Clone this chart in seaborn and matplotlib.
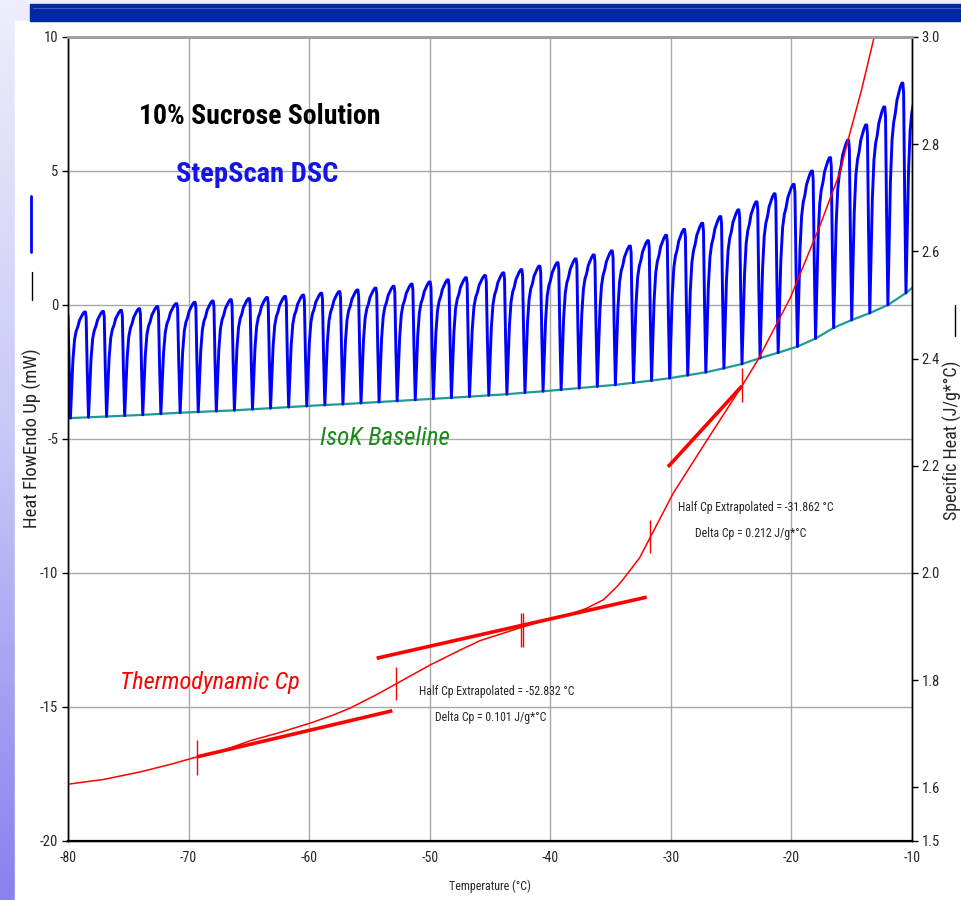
import numpy as np
import pandas as pd
import matplotlib
matplotlib.use("Agg")
import matplotlib.pyplot as plt
from matplotlib import font_manager
from matplotlib.patches import Rectangle
import seaborn as sns

# --- data ---
# StepScan: temperature (°C) where each heat-flow step drops back to the baseline
step_temps = [-79.8, -78.3, -76.8, -75.3, -73.8, -72.3, -70.7, -69.2, -67.7, -66.2,
              -64.7, -63.2, -61.7, -60.2, -58.7, -57.2, -55.7, -54.2, -52.7, -51.2,
              -49.7, -48.2, -46.7, -45.1, -43.6, -42.1, -40.6, -39.1, -37.6, -36.1,
              -34.6, -33.1, -31.6, -30.1, -28.6, -27.1, -25.6, -24.1, -22.6, -21.1,
              -19.5, -18.0, -16.5, -15.0, -13.5, -12.0, -10.5, -9.0]
# peak heat flow (mW) just before each drop
peak_vals = [-0.40, -0.26, -0.24, -0.20, -0.14, -0.06, 0.05, 0.10, 0.15, 0.20,
             0.24, 0.28, 0.32, 0.37, 0.44, 0.50, 0.56, 0.63, 0.70, 0.78,
             0.86, 0.94, 1.02, 1.10, 1.20, 1.32, 1.45, 1.58, 1.72, 1.87,
             2.02, 2.20, 2.40, 2.60, 2.82, 3.05, 3.30, 3.55, 3.85, 4.15,
             4.50, 5.00, 5.50, 6.15, 6.72, 7.39, 8.28, 8.60]
# IsoK baseline (mW) at each drop
base_vals = [-4.22, -4.19, -4.16, -4.13, -4.10, -4.06, -4.02, -3.99, -3.96, -3.93,
             -3.89, -3.85, -3.81, -3.77, -3.73, -3.70, -3.66, -3.62, -3.58, -3.54,
             -3.50, -3.46, -3.42, -3.37, -3.33, -3.27, -3.22, -3.16, -3.10, -3.04,
             -2.98, -2.90, -2.82, -2.73, -2.62, -2.51, -2.36, -2.20, -1.98, -1.78,
             -1.55, -1.25, -0.85, -0.56, -0.30, 0.00, 0.45, 1.00]
# shape of one step: fraction of the cycle and fraction of the peak height
step_phase = [0.0, 0.05, 0.14, 0.23, 0.32, 0.41, 0.50, 0.59, 0.68, 0.77, 0.83, 0.87, 0.93, 1.0]
step_frac = [0.0, 0.20, 0.55, 0.74, 0.82, 0.86, 0.92, 0.95, 0.98, 1.0, 1.0, 0.95, 0.45, 0.0]

# thermodynamic Cp (J/g*°C)
cp_temp = [-80.0, -77.0, -74.0, -71.5, -69.3, -67.0, -64.9, -62.5, -59.9, -58.0,
           -56.6, -54.5, -52.8, -50.0, -47.5, -45.8, -44.0, -42.35, -40.5, -38.4,
           -37.0, -35.6, -34.5, -34.0, -32.6, -31.7, -29.8, -27.0, -24.1, -22.8,
           -20.1, -17.6, -16.0, -15.3, -14.2, -13.2, -12.9]
cp_vals = [1.606, 1.615, 1.629, 1.643, 1.657, 1.670, 1.687, 1.702, 1.720, 1.735,
           1.748, 1.772, 1.793, 1.828, 1.856, 1.874, 1.887, 1.899, 1.911, 1.923,
           1.934, 1.950, 1.974, 1.987, 2.028, 2.067, 2.149, 2.248, 2.349, 2.397,
           2.513, 2.650, 2.746, 2.808, 2.900, 2.994, 3.030]

# tangent lines and marker ticks on the Cp curve
tangent_T = [(-69.3, -53.1), (-54.4, -32.0), (-30.24, -24.1)]
tangent_cp = [(1.657, 1.743), (1.841, 1.955), (2.198, 2.349)]
mark_T = [-69.3, -52.8, -42.45, -42.25, -31.75, -24.1]
mark_lo = [1.623, 1.763, 1.862, 1.862, 2.037, 2.319]
mark_hi = [1.688, 1.825, 1.925, 1.925, 2.099, 2.382]

x_ticks = [-80, -70, -60, -50, -40, -30, -20, -10]
hf_ticks = [10, 5, 0, -5, -10, -15, -20]
cp_ticks = [3.0, 2.8, 2.6, 2.4, 2.2, 2.0, 1.8, 1.6, 1.5]

# --- build the step-scan trace from the per-step values ---
hf_T, hf_v = [cp_temp[0]], [peak_vals[0]]
for k in range(1, len(step_temps)):
    t0, t1 = step_temps[k - 1], step_temps[k]
    b0, b1 = base_vals[k - 1], base_vals[k]
    for ph, fr in zip(step_phase, step_frac):
        b = b0 + (b1 - b0) * ph
        hf_T.append(t0 + (t1 - t0) * ph)
        hf_v.append(b + fr * (peak_vals[k] - b))
hf = pd.DataFrame({"T": hf_T, "hf": hf_v})
base = pd.DataFrame({"T": [-80.0] + step_temps, "hf": [base_vals[0]] + base_vals})
cp = pd.DataFrame({"T": cp_temp, "cp": cp_vals})

sns.set_style("white")
names = {f.name for f in font_manager.fontManager.ttflist}
narrow = next((n for n in ["Liberation Sans Narrow", "Arial Narrow", "Roboto Condensed",
                           "DejaVu Sans Condensed", "Liberation Sans"] if n in names), "DejaVu Sans")
plt.rcParams["font.family"] = ["Liberation Sans", "DejaVu Sans"]

W, H = 961, 900
fig = plt.figure(figsize=(W / 100, H / 100), dpi=100)
fig.patch.set_facecolor("white")

# slide background: lavender gradient, blue header band, white panel
bg = fig.add_axes([0, 0, 1, 1], zorder=-10)
grad = np.linspace(0, 1, 256).reshape(-1, 1)
cmap = matplotlib.colors.LinearSegmentedColormap.from_list("bg", ["#eeeefc", "#c8c6f6", "#8a80ee"])
bg.imshow(grad, aspect="auto", cmap=cmap, extent=[0, 1, 0, 1], origin="upper")
bg.add_patch(Rectangle((15 / W, 0), 1, 1 - 21 / H, color="white", transform=bg.transAxes))
bg.add_patch(Rectangle((30 / W, 1 - 21 / H), 1, 17 / H, color="#0028a0", transform=bg.transAxes))
bg.plot([33 / W, 1], [1 - 8 / H, 1 - 8 / H], color="#3a58c0", lw=0.8, transform=bg.transAxes)
bg.set_xlim(0, 1)
bg.set_ylim(0, 1)
bg.axis("off")

ax = fig.add_axes([68 / W, 1 - 841 / H, (912 - 68) / W, (841 - 37) / H])
ax.set_facecolor("none")
ax2 = ax.twinx()

sns.lineplot(data=base, x="T", y="hf", ax=ax, color="#1f9b96", lw=1.6, sort=False, estimator=None)
sns.lineplot(data=hf, x="T", y="hf", ax=ax, color="#0000ff", lw=2.1, sort=False, estimator=None)

sns.lineplot(data=cp, x="T", y="cp", ax=ax2, color="#ff0000", lw=1.1, sort=False, estimator=None)
for (t0, t1), (c0, c1) in zip(tangent_T, tangent_cp):
    ax2.plot([t0, t1], [c0, c1], color="#ff0000", lw=2.6, solid_capstyle="butt")
ax2.vlines(mark_T, mark_lo, mark_hi, color="#ff0000", lw=1.0)

ax.set_xlim(-80, -10)
ax.set_ylim(-20, 10)
ax2.set_ylim(1.5, 3.0)
ax.set_xticks(x_ticks)
ax.set_yticks(hf_ticks)
ax2.set_yticks(cp_ticks)
ax.set_xticklabels([str(v) for v in x_ticks], fontfamily=narrow, fontsize=10)
ax.set_yticklabels([str(v) for v in hf_ticks], fontfamily=narrow, fontsize=10.5)
ax2.set_yticklabels([f"{v:.1f}" for v in cp_ticks], fontfamily=narrow, fontsize=10.5)
ax.grid(True, color="#a8a8a8", lw=1.0)
ax.tick_params(axis="both", direction="out", length=4, width=1, color="black", pad=3)
ax2.tick_params(axis="y", direction="out", length=4, width=1, color="black", pad=3)
ax.set_xlabel("")
ax.set_ylabel("")
ax2.set_ylabel("")
for a in (ax, ax2):
    for s in a.spines.values():
        s.set_color("black")
        s.set_linewidth(1.0)
    a.spines["top"].set_color("#a0a0a0")
    a.spines["top"].set_linewidth(2.0)
ax.spines["bottom"].set_linewidth(1.6)

def ftext(x, y, s, **kw):
    fig.text(x / W, 1 - y / H, s, ha="center", va="center", fontfamily=narrow, **kw)

ftext(260, 117, "10% Sucrose Solution", fontsize=20, color="black", fontweight="bold")
ftext(257, 174, "StepScan DSC", fontsize=20.5, color="#1414e6", fontweight="bold")
ftext(385, 438, "IsoK Baseline", fontsize=18, color="#1a8a1a", style="italic")
ftext(210, 683, "Thermodynamic Cp", fontsize=17.5, color="#ff0000", style="italic")
ftext(497, 691, "Half Cp Extrapolated = -52.832 °C", fontsize=8.5)
ftext(491, 718, "Delta Cp = 0.101 J/g*°C", fontsize=8.5)
ftext(756, 508, "Half Cp Extrapolated = -31.862 °C", fontsize=8.5)
ftext(751, 534, "Delta Cp = 0.212 J/g*°C", fontsize=8.5)
ftext(490, 886, "Temperature (°C)", fontsize=8.6)

# axis titles with their legend line samples
ftext(32, 438, "Heat FlowEndo Up (mW)", fontsize=13.5, rotation=90)
fig.add_artist(plt.Line2D([31 / W, 31 / W], [1 - 196 / H, 1 - 252 / H], color="#0000ff", lw=2.0))
fig.add_artist(plt.Line2D([32 / W, 32 / W], [1 - 272 / H, 1 - 300 / H], color="black", lw=1.0))
ftext(952, 440, "Specific Heat (J/g*°C)", fontsize=13, rotation=90)
fig.add_artist(plt.Line2D([955 / W, 955 / W], [1 - 305 / H, 1 - 336 / H], color="black", lw=1.0))

fig.savefig("out.png", dpi=100)
